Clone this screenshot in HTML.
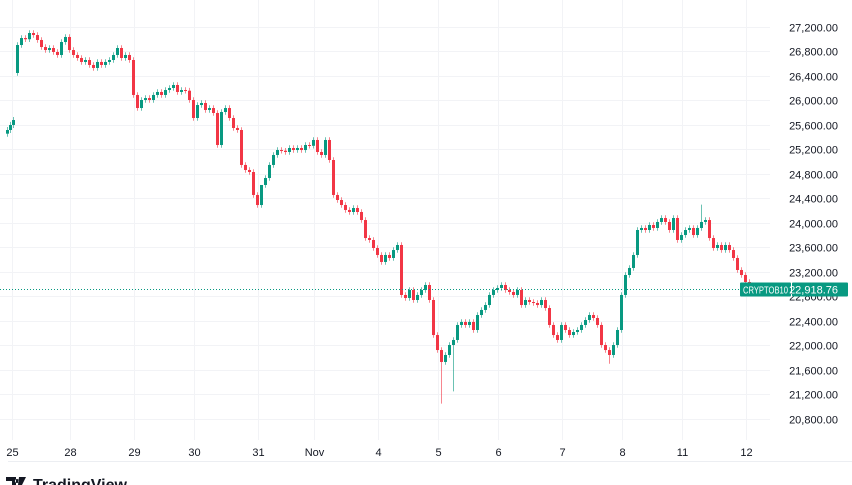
<!DOCTYPE html>
<html><head><meta charset="utf-8"><style>
html,body{margin:0;padding:0;background:#fff;width:852px;height:485px;overflow:hidden}
svg{display:block;font-family:"Liberation Sans",sans-serif}
</style></head><body>
<svg id="chart" width="852" height="485" viewBox="0 0 852 485" xmlns="http://www.w3.org/2000/svg">
<g id="grid"></g>
<g id="candles"></g>
<g id="yaxis"></g>
<g id="xaxis"></g>
<line x1="8" y1="461.5" x2="852" y2="461.5" stroke="#eceef2"/>
<g id="pricemark"></g>
<g>
<path d="M6 477h10v8h-4v-4h-6z M19 477h7l-4 8h-4z M17 479a2 2 0 1 0 0.01 0z" fill="#131722"/>
<text x="33" y="490" font-size="16" font-weight="bold" fill="#131722">TradingView</text>
</g>
</svg>
<script>
const preGapCloses=[25518,25600,25681];
const firstOpen=26449;
const closes=[26906,27020,27000,27102,27069,26988,26873,26824,26857,26792,26743,26955,27037,26824,26743,26694,26629,26661,26580,26531,26629,26580,26629,26661,26743,26857,26694,26743,26661,26090,25877,26008,26040,26008,26090,26139,26090,26171,26204,26253,26139,26171,26160,26008,25714,25926,25959,25845,25877,25796,25273,25812,25877,25714,25551,25518,24947,24865,24832,24457,24293,24620,24734,24947,25110,25191,25180,25159,25224,25191,25224,25191,25273,25260,25355,25159,25110,25355,25028,24457,24375,24293,24212,24179,24244,24179,24048,23754,23722,23591,23477,23363,23477,23428,23558,23640,22824,22775,22905,22742,22824,22905,22987,22742,22170,21925,21730,21844,22007,22089,22334,22383,22334,22383,22252,22497,22579,22660,22824,22905,22938,22987,22905,22873,22824,22905,22660,22742,22709,22693,22660,22742,22611,22334,22170,22089,22334,22252,22170,22219,22252,22334,22415,22497,22448,22334,22007,21925,21844,22007,22252,22824,23150,23265,23477,23885,23918,23885,23967,23918,24016,24081,24016,23885,24081,23722,23803,23885,23918,23803,23918,24016,24048,23754,23591,23640,23558,23640,23558,23428,23232,23150,23036,22919];
const lowSpikes=[[106,21050],[109,21250],[148,21700]];
const highSpikes=[[61,24300],[171,24300]];
const yTicks=[27200,26800,26400,26000,25600,25200,24800,24400,24000,23600,23200,22800,22400,22000,21600,21200,20800];
const xLabels=["25","28","29","30","31","Nov","4","5","6","7","8","11","12"];
const xLabelIdx=[-1,13,29,44,60,74,90,105,120,136,151,166,182];
const lastPrice=22918.76;
const NS="http://www.w3.org/2000/svg";
function y(p){return 27+(27200-p)/16.33;}
function x(i){return 17.5+4*i;}
function xp(i){return 7.5+3*i;}
function mk(t,a,parent){const e=document.createElementNS(NS,t);for(const k in a)e.setAttribute(k,a[k]);parent.appendChild(e);return e;}
const G=document.getElementById('grid'),C=document.getElementById('candles'),Y=document.getElementById('yaxis'),X=document.getElementById('xaxis'),P=document.getElementById('pricemark');
yTicks.forEach(v=>{const yy=Math.round(y(v))+0.5;
 const l=mk('line',{x1:0,x2:770,y1:yy,y2:yy,stroke:'#f2f3f6'},G);
 
 
 const t=mk('text',{x:838,y:yy+4,'text-anchor':'end','font-size':11,fill:'#131722'},Y);t.textContent=v.toLocaleString('en-US',{minimumFractionDigits:2});
 
 
});
xLabels.forEach((s,k)=>{const xx=xLabelIdx[k]<0?12.5:Math.round(x(xLabelIdx[k]))+0.5;
 const l=mk('line',{x1:xx,x2:xx,y1:0,y2:440,stroke:'#f2f3f6'},G);
 
 
 const t=mk('text',{x:xx,y:456,'text-anchor':'middle','font-size':11,fill:'#131722'},X);t.textContent=s;
 
 
});
function candle(xx,o,c,hi,lo){
 const up=c>=o,col=up?'#089981':'#f23645';
 const g=mk('g',{},C);
 
 
 mk('line',{x1:xx,x2:xx,y1:y(hi),y2:y(lo),stroke:col,'stroke-opacity':0.6},g);
 const t=y(Math.max(o,c)),b=y(Math.min(o,c));
 mk('rect',{x:xx-1.5,y:t,width:3,height:Math.max(1,b-t),fill:col},g);
}
let prev=preGapCloses[0]-60;
preGapCloses.forEach((c,i)=>{candle(xp(i),prev,c,Math.max(prev,c)+50,Math.min(prev,c)-50);prev=c;});
prev=firstOpen;
closes.forEach((c,i)=>{let hi=Math.max(prev,c)+45,lo=Math.min(prev,c)-45;
 lowSpikes.forEach(s=>{if(s[0]===i)lo=s[1];});highSpikes.forEach(s=>{if(s[0]===i)hi=s[1];});
 candle(x(i),prev,c,hi,lo);prev=c;});
const ly=Math.round(y(lastPrice))+0.5;
mk('line',{x1:0,x2:740,y1:ly,y2:ly,stroke:'#089981','stroke-dasharray':'1 2'},P);
mk('rect',{x:740,y:ly-7,width:51,height:14,fill:'#089981',rx:1},P);
const t1=mk('text',{x:743,y:ly+4,'font-size':10,fill:'#fff',textLength:45,lengthAdjust:'spacingAndGlyphs'},P);t1.textContent='CRYPTOB10';
mk('rect',{x:792,y:ly-7,width:56,height:14,fill:'#089981',rx:1},P);
const t2=mk('text',{x:838,y:ly+4,'text-anchor':'end','font-size':11,fill:'#fff'},P);t2.textContent=lastPrice.toLocaleString('en-US',{minimumFractionDigits:2});
</script>
</body></html>
